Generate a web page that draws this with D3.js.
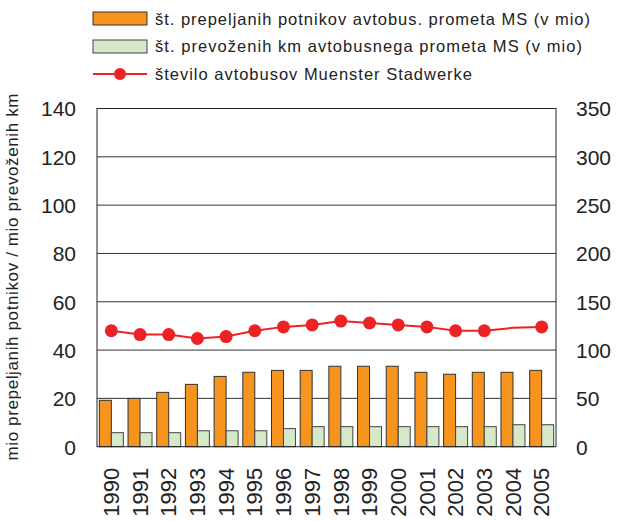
<!DOCTYPE html>
<html><head><meta charset="utf-8">
<script src="https://cdn.jsdelivr.net/npm/d3@7"></script>
<style>body{margin:0;background:#fff}svg{display:block}text{font-family:"Liberation Sans",Arial,sans-serif;fill:#222}</style>
</head><body><svg id="c" width="621" height="522"></svg>
<script>
const years = ["1990","1991","1992","1993","1994","1995","1996","1997","1998","1999","2000","2001","2002","2003","2004","2005"];
const passengers = [19.2,20,22.5,25.8,29.1,30.8,31.6,31.6,33.3,33.3,33.3,30.8,30,30.8,30.8,31.6];
const kilometres = [5.8,5.8,5.8,6.6,6.6,6.6,7.5,8.3,8.3,8.3,8.3,8.3,8.3,8.3,9.1,9.1];
const buses = [120,116,116,112,114,120,124,126,130,128,126,124,120,120,123,124];
const busMarker = [true,true,true,true,true,true,true,true,true,true,true,true,true,true,false,true];
const leftTicks = [0,20,40,60,80,100,120,140];
const rightTicks = [0,50,100,150,200,250,300,350];
const legendLabels = ["št. prepeljanih potnikov avtobus. prometa MS (v mio)","št. prevoženih km avtobusnega prometa MS (v mio)","število avtobusov Muenster Stadwerke"];
const legendLengths = [435,427,317];
const yTitle = "mio prepeljanih potnikov / mio prevoženih km";

const svg = d3.select("#c");
const L=97,R=556,T=108.5,B=446.7;
const x = d3.scaleBand().domain(years).range([L,R]).paddingInner(0.164).paddingOuter(0.082);
const yL = d3.scaleLinear().domain([0,140]).range([B,T]);
const yR = d3.scaleLinear().domain([0,350]).range([B,T]);
const bw = x.bandwidth()/2;

svg.append("g").selectAll("line").data(leftTicks.slice(1,-1)).join("line")
  .attr("x1",L).attr("x2",R).attr("y1",d=>yL(d)).attr("y2",d=>yL(d))
  .attr("stroke","#333").attr("stroke-width",1);

svg.append("g").selectAll("rect").data(passengers).join("rect")
  .attr("x",(d,i)=>x(years[i])).attr("width",bw)
  .attr("y",d=>yL(d)).attr("height",d=>B-yL(d))
  .attr("fill","#f7941d").attr("stroke","#333").attr("stroke-width",1);
svg.append("g").selectAll("rect").data(kilometres).join("rect")
  .attr("x",(d,i)=>x(years[i])+bw).attr("width",bw)
  .attr("y",d=>yL(d)).attr("height",d=>B-yL(d))
  .attr("fill","#d5e8c8").attr("stroke","#444").attr("stroke-width",1);

const cx = i=>x(years[i])+x.bandwidth()/2;
svg.append("path").datum(buses)
  .attr("d",d3.line().x((d,i)=>cx(i)).y(d=>yR(d)))
  .attr("fill","none").attr("stroke","#ed2224").attr("stroke-width",2);
svg.append("g").selectAll("circle").data(buses.map((v,i)=>({v,i})).filter(d=>busMarker[d.i])).join("circle")
  .attr("cx",d=>cx(d.i)).attr("cy",d=>yR(d.v)).attr("r",6.5).attr("fill","#ed2224");

svg.append("rect").attr("x",L).attr("y",T).attr("width",R-L).attr("height",B-T)
  .attr("fill","none").attr("stroke","#222").attr("stroke-width",1);

const axL = svg.append("g").attr("transform",`translate(${L},0)`).call(d3.axisLeft(yL).tickValues(leftTicks).tickSize(0).tickPadding(21));
axL.select(".domain").remove();
axL.selectAll("text").style("font-size","21px").attr("fill","#222").attr("dy","0.35em");
const axR = svg.append("g").attr("transform",`translate(${R},0)`).call(d3.axisRight(yR).tickValues(rightTicks).tickSize(0).tickPadding(20));
axR.select(".domain").remove();
axR.selectAll("text").style("font-size","21px").attr("fill","#222").attr("dy","0.35em");

const axB = svg.append("g").attr("transform",`translate(0,${B})`).call(d3.axisBottom(x).tickSize(0));
axB.select(".domain").remove();
axB.selectAll("text").style("font-size","22px").attr("fill","#222")
  .attr("transform","rotate(-90)").attr("text-anchor","end").attr("x",-21).attr("y",0).attr("dy","0.35em");

svg.append("text").attr("transform","translate(12,277) rotate(-90)").attr("text-anchor","middle").attr("dy","0.35em")
  .attr("textLength",367).attr("lengthAdjust","spacing")
  .style("font-size","17px").text(yTitle);

const lg = svg.append("g");
const ly=[19,46.5,74];
lg.append("rect").attr("x",93).attr("y",12).attr("width",54).attr("height",13).attr("fill","#f7941d").attr("stroke","#333");
lg.append("rect").attr("x",93).attr("y",40).attr("width",54).attr("height",13).attr("fill","#d5e8c8").attr("stroke","#444");
lg.append("line").attr("x1",93).attr("x2",147).attr("y1",ly[2]).attr("y2",ly[2]).attr("stroke","#ed2224").attr("stroke-width",2);
lg.append("circle").attr("cx",120).attr("cy",ly[2]).attr("r",6).attr("fill","#ed2224");
lg.selectAll("text").data(legendLabels).join("text").attr("x",155).attr("y",(d,i)=>ly[i]).attr("dy","0.35em")
  .attr("textLength",(d,i)=>legendLengths[i]).attr("lengthAdjust","spacing")
  .style("font-size","16.5px").text(d=>d);
</script></body></html>
